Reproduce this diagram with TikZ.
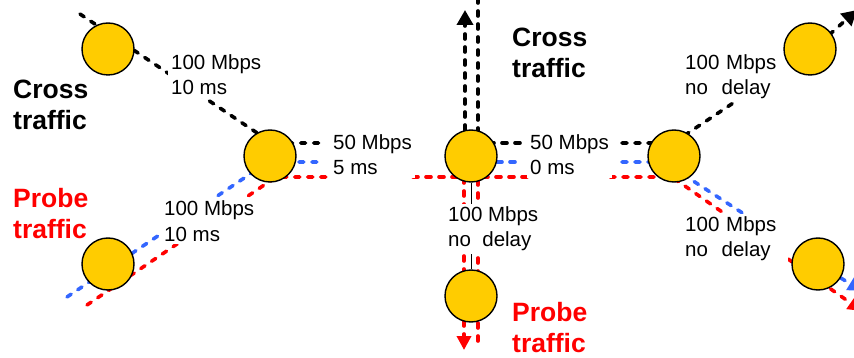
\documentclass[tikz,border=0pt]{standalone}
\usepackage{fontspec}
\setmainfont{Liberation Sans}
\usetikzlibrary{arrows.meta,backgrounds,calc}
\definecolor{nodegold}{HTML}{FFCC00}
\definecolor{probeblue}{HTML}{3366FF}
\definecolor{probered}{HTML}{FF0000}

\begin{document}
\begin{tikzpicture}[x=1pt,y=-1pt,
  router/.style={circle,draw=black,line width=1.4pt,fill=nodegold,minimum size=52pt,inner sep=0pt},
  flow/.style={line width=3.6pt,line cap=round,dash pattern=on 5pt off 8pt},
  crossflow/.style={flow,draw=black},
  blueflow/.style={flow,draw=probeblue},
  redflow/.style={flow,draw=probered},
  crosstip/.style={-{Triangle[width=16pt,length=15pt]}},
  redtip/.style={-{Triangle[width=14pt,length=14pt]}},
  bluetip/.style={-{Triangle[width=14pt,length=14pt]}},
  linkinfo/.style={font=\fontsize{20.5}{25}\selectfont,align=left,fill=white,inner sep=3pt,anchor=base west},
  heading/.style={font=\fontsize{26.5}{31}\selectfont\bfseries,align=left,anchor=base west,inner sep=0pt},
]
\useasboundingbox (0,0) rectangle (854,358);

% link parameters (white boxes hide the links behind them)
\node[linkinfo] (lAB) at (168,95) {100 Mbps\\10 ms};
\node[linkinfo] (lCB) at (161,241) {100 Mbps\\10 ms};
\node[linkinfo] (lB)  at (330,175) {50 Mbps\\5 ms};
\node[linkinfo] (lD)  at (527,175) {50 Mbps\\0 ms};
\node[linkinfo] (lDE) at (445,247) {100 Mbps\\no\ \ delay};
\node[linkinfo,text width=100pt] (lFG) at (682,70) {100 Mbps\\no\ \ delay};
\node[linkinfo,text width=100pt] (lFH) at (682,232) {100 Mbps\\no\ \ delay};

% routers
\node[router] (A) at (108,49) {};
\node[router] (B) at (270,156) {};
\node[router] (C) at (108,264) {};
\node[router] (D) at (471,156) {};
\node[router] (E) at (471,296) {};
\node[router] (F) at (674,156) {};
\node[router] (G) at (810,49) {};
\node[router] (H) at (818,264) {};

% free ends of the traffic paths
\coordinate (xin)  at (80,14);
\coordinate (xbR)  at (325,143);
\coordinate (bIn)  at (67,297);
\coordinate (bbR)  at (323,162);
\coordinate (rIn)  at (87,305);
\coordinate (rbR)  at (332,177);
\coordinate (xdTop) at (478,-2);
\coordinate (xdUp) at (465,10);
\coordinate (xdR)  at (525,143);
\coordinate (bdR)  at (518,162);
\coordinate (rdL)  at (413,177);
\coordinate (rdR)  at (527,177);
\coordinate (rdDn) at (464,350);
\coordinate (rdDn2) at (478,343);
\coordinate (xfL)  at (622,143);
\coordinate (bfL)  at (622,162);
\coordinate (rfL)  at (610,177);
\coordinate (xOut) at (857,10);
\coordinate (bOut) at (862,291);
\coordinate (rOut) at (862,311);

\begin{scope}[on background layer]
  \clip (0,0) rectangle (854,358);
  % cross traffic, left part
  \draw[crossflow] (xin) -- ($(B)+(2,-13)$) -- (xbR);
  % probe traffic, left part
  \draw[blueflow] (bIn) -- ($(B)+(-2,6)$) -- (bbR);
  \draw[redflow]  (rIn) -- ($(B)+(6,21)$) -- (rbR);
  % cross traffic around the centre router
  \draw[crossflow] (xdTop) -- ($(D)+(7,-13)$) -- (xdR);
  \draw[crossflow,crosstip] ($(D)+(-6,0)$) -- (xdUp);
  % probe traffic around the centre router
  \draw[blueflow] ($(D)+(0,6)$) -- (bdR);
  \draw[redflow,redtip] (rdL) -- ($(D)+(-7,21)$) -- (rdDn);
  \draw[redflow] (rdR) -- ($(D)+(7,21)$) -- (rdDn2);
  \draw[line width=0.9pt] (D) -- (E);
  % right part
  \draw[crossflow] (xfL) -- ($(F)+(-1,-13)$) -- ($(G)+(0,3)$);
  \draw[crossflow,crosstip] ($(G)+(0,3)$) -- (xOut);
  \draw[blueflow] (bfL) -- ($(F)+(-10,6)$) -- ($(F)+(70,58)$);
  \draw[blueflow,bluetip] (H) -- (bOut);
  \draw[redflow] (rfL) -- ($(F)+(-2,21)$) -- ($(F)+(51,58)$);
  \draw[redflow,redtip] ($(H)+(-30,-5)$) -- (rOut);
\end{scope}

% traffic names
\node[heading] (crossL) at (13,130) {Cross\\traffic};
\node[heading,text=probered] (probeL) at (13,238) {Probe\\traffic};
\node[heading] (crossT) at (512,78) {Cross\\traffic};
\node[heading,text=probered] (probeB) at (512,352) {Probe\\traffic};
\end{tikzpicture}
\end{document}
